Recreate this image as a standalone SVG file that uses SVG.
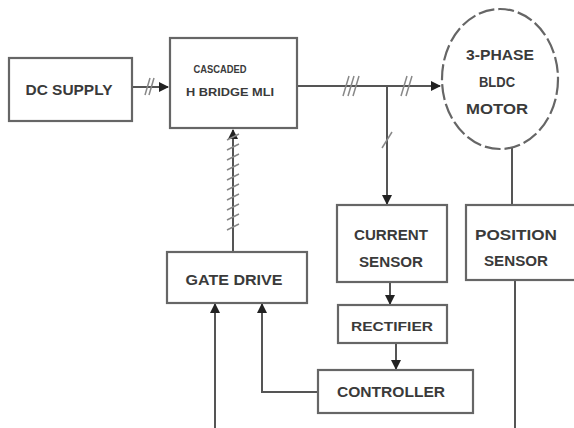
<svg xmlns="http://www.w3.org/2000/svg" width="574" height="428" viewBox="0 0 574 428">
<defs>
<marker id="ah" viewBox="0 0 10 10" refX="9" refY="5" markerWidth="5" markerHeight="5" orient="auto-start-reverse">
<path d="M0,0 L10,5 L0,10 z" fill="#222"/>
</marker>
<style>
.box{fill:#fff;stroke:#666;stroke-width:2.2}
.ln{fill:none;stroke:#555;stroke-width:2}
.sl{fill:none;stroke:#888;stroke-width:1.5}
.t{font-family:"Liberation Sans",Arial,sans-serif;fill:#3a3a3a;text-anchor:middle;font-weight:bold}
</style>
</defs>
<rect width="574" height="428" fill="#fff"/>
<g id="connectors">
<line class="ln" x1="133" y1="87" x2="168" y2="87" marker-end="url(#ah)"/>
<line class="ln" x1="297" y1="86" x2="440" y2="86" marker-end="url(#ah)"/>
<line class="ln" x1="387" y1="86" x2="387" y2="204" marker-end="url(#ah)"/>
<line class="ln" x1="512" y1="148" x2="512" y2="205"/>
<line class="ln" x1="233" y1="252" x2="233" y2="130" marker-end="url(#ah)"/>
<line class="ln" x1="390" y1="282" x2="390" y2="304" marker-end="url(#ah)"/>
<line class="ln" x1="396" y1="343" x2="396" y2="369" marker-end="url(#ah)"/>
<line class="ln" x1="215" y1="428" x2="215" y2="304" marker-end="url(#ah)"/>
<polyline class="ln" points="318,392 262,392 262,304" marker-end="url(#ah)"/>
<line class="ln" x1="515" y1="280" x2="515" y2="428"/>
<path class="sl" d="M145,95 L150,78 M149,95 L154,78"/>
<path class="sl" d="M343,96 L349,76 M348,96 L354,76 M353,96 L359,76"/>
<path class="sl" d="M401,96 L407,76 M406,96 L412,76"/>
<path class="sl" d="M382,148 L392,132"/>
<path class="sl" d="M227,140 L239,134 M227,150 L239,144 M227,160 L239,154 M227,170 L239,164 M227,180 L239,174 M227,190 L239,184 M227,200 L239,194 M227,210 L239,204 M227,220 L239,214 M227,230 L239,224"/>
</g>
<g id="dc_supply">
<rect class="box" x="9" y="58" width="123" height="63"/>
<text class="t" x="69" y="95" font-size="15" textLength="87" lengthAdjust="spacingAndGlyphs">DC SUPPLY</text>
</g>
<g id="cascaded_h_bridge">
<rect class="box" x="170" y="38" width="127" height="90"/>
<text class="t" x="220" y="73" font-size="11" textLength="53" lengthAdjust="spacingAndGlyphs">CASCADED</text>
<text class="t" x="230" y="96" font-size="11" textLength="88" lengthAdjust="spacingAndGlyphs">H BRIDGE MLI</text>
</g>
<g id="motor">
<ellipse cx="500" cy="79" rx="58" ry="70" fill="#fff" stroke="#666" stroke-width="2.2" stroke-dasharray="16 4"/>
<text class="t" x="500" y="60" font-size="14" textLength="68" lengthAdjust="spacingAndGlyphs">3-PHASE</text>
<text class="t" x="497" y="87" font-size="14" textLength="36" lengthAdjust="spacingAndGlyphs">BLDC</text>
<text class="t" x="497" y="114" font-size="14" textLength="62" lengthAdjust="spacingAndGlyphs">MOTOR</text>
</g>
<g id="current_sensor">
<rect class="box" x="337" y="205" width="110" height="77"/>
<text class="t" x="391" y="240" font-size="14" textLength="74" lengthAdjust="spacingAndGlyphs">CURRENT</text>
<text class="t" x="391" y="267" font-size="14" textLength="64" lengthAdjust="spacingAndGlyphs">SENSOR</text>
</g>
<g id="position_sensor">
<rect class="box" x="466" y="205" width="112" height="75"/>
<text class="t" x="516" y="240" font-size="14" textLength="82" lengthAdjust="spacingAndGlyphs">POSITION</text>
<text class="t" x="516" y="266" font-size="14" textLength="64" lengthAdjust="spacingAndGlyphs">SENSOR</text>
</g>
<g id="rectifier">
<rect class="box" x="338" y="305" width="109" height="38" stroke="#999"/>
<text class="t" x="392" y="331" font-size="13" textLength="82" lengthAdjust="spacingAndGlyphs">RECTIFIER</text>
</g>
<g id="controller">
<rect class="box" x="318" y="370" width="155" height="43"/>
<text class="t" x="391" y="397" font-size="14" textLength="108" lengthAdjust="spacingAndGlyphs">CONTROLLER</text>
</g>
<g id="gate_drive">
<rect class="box" x="167" y="252" width="140" height="51"/>
<text class="t" x="234" y="285" font-size="15" textLength="97" lengthAdjust="spacingAndGlyphs">GATE DRIVE</text>
</g>
</svg>
